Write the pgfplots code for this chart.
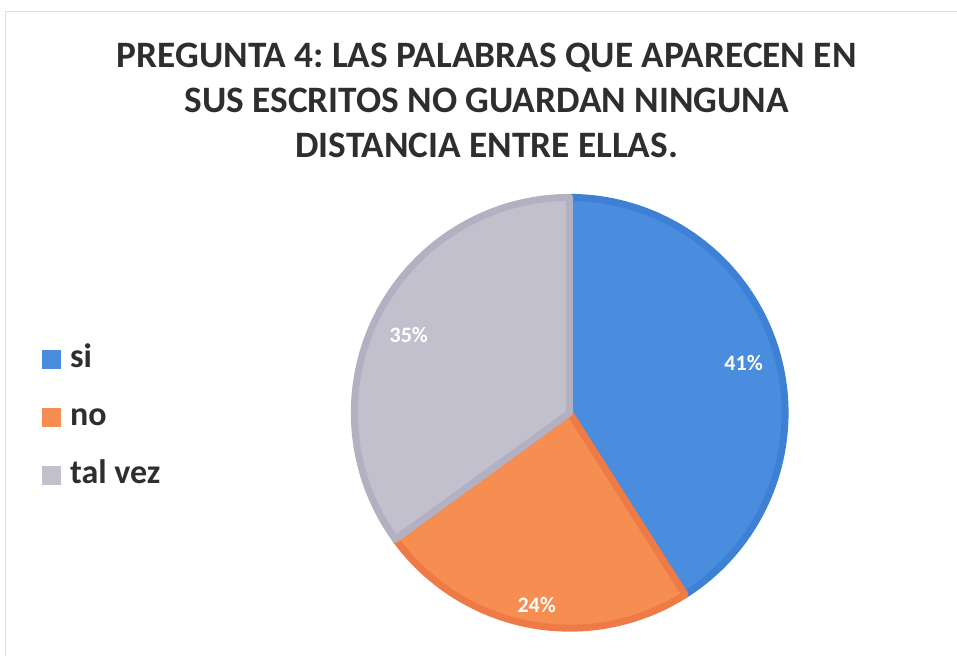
\documentclass[border=0pt]{standalone}
\usepackage{pgfplots}
\pgfplotsset{compat=1.18}
\usepackage{fontspec}
\setmainfont{Carlito}
\frenchspacing
\definecolor{cblue}{HTML}{4A8CDE}
\definecolor{cblueb}{HTML}{3D80D4}
\definecolor{corange}{HTML}{F58E50}
\definecolor{coranged}{HTML}{EE7B46}
\definecolor{cgray}{HTML}{C2C0CD}
\definecolor{cgrayb}{HTML}{B3B0C1}
\definecolor{ctitle}{HTML}{2E2E2E}
% values (percent)
\def\vsi{41}
\def\vno{24}
\def\vtal{35}
\pgfmathsetmacro{\aA}{90}
\pgfmathsetmacro{\aB}{90-3.6*\vsi}
\pgfmathsetmacro{\aC}{\aB-3.6*\vno}
\pgfmathsetmacro{\aD}{\aC-3.6*\vtal}
\begin{document}
\begin{tikzpicture}
\begin{axis}[
  scale only axis, width=957pt, height=656pt,
  xmin=0, xmax=957, ymin=0, ymax=656,
  hide axis, clip=false,
  legend image code/.code={\fill[#1,draw=none] (0pt,-9.5pt) rectangle (19pt,9.5pt);},
  legend style={draw=none, fill=none, at={(axis cs:42,313)}, anchor=north west,
    font=\fontsize{34}{36}\selectfont\bfseries, text=ctitle,
    /tikz/row sep=26.5pt, inner sep=0pt,
    nodes={inner ysep=0pt, inner xsep=9pt, text height=24pt, text depth=8pt}},
  legend cell align=left,
]
\path (axis cs:0,0) rectangle (axis cs:957,656);
\draw[black!12, line width=1pt] (axis cs:6,0) -- (axis cs:6,644) -- (axis cs:957,644);
\addplot[fill=cblue, draw=cblueb, line width=7pt, line join=round, samples=90, domain=\aB:\aA, variable=\t]
  ({570+215.5*cos(t)},{243+215.5*sin(t)}) -- (axis cs:570,243) -- cycle;
\addlegendentry{si}
\addplot[fill=corange, draw=coranged, line width=7pt, line join=round, samples=60, domain=\aC:\aB, variable=\t]
  ({570+215.5*cos(t)},{243+215.5*sin(t)}) -- (axis cs:570,243) -- cycle;
\addlegendentry{no}
\addplot[fill=cgray, draw=cgrayb, line width=7pt, line join=round, samples=80, domain=\aD:\aC, variable=\t]
  ({570+215.5*cos(t)},{243+215.5*sin(t)}) -- (axis cs:570,243) -- cycle;
\addlegendentry{tal vez}
\node[text=white, font=\fontsize{22}{23}\selectfont\bfseries] at (axis cs:744,293) {41\%};
\node[text=white, font=\fontsize{22}{23}\selectfont\bfseries] at (axis cs:537,51) {24\%};
\node[text=white, font=\fontsize{22}{23}\selectfont\bfseries] at (axis cs:409,321) {35\%};
\node[text=ctitle, align=center, font=\fontsize{37.3}{45}\selectfont\bfseries] at (axis cs:487,556)
  {PREGUNTA 4: LAS PALABRAS QUE APARECEN EN\\SUS ESCRITOS NO GUARDAN NINGUNA\\DISTANCIA ENTRE ELLAS.};
\end{axis}
\end{tikzpicture}
\end{document}
